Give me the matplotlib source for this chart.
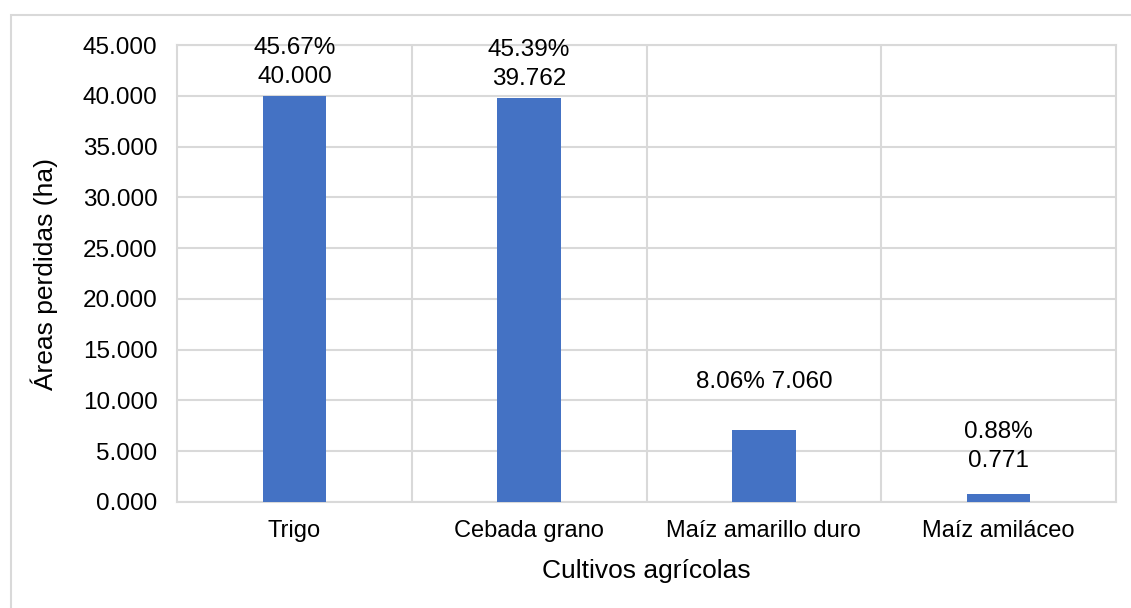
import matplotlib
matplotlib.use("Agg")
import matplotlib.pyplot as plt
from matplotlib.patches import Rectangle

categories = ["Trigo", "Cebada grano", "Maíz amarillo duro", "Maíz amiláceo"]
values = [40.000, 39.762, 7.060, 0.771]
percents = [45.67, 45.39, 8.06, 0.88]
label_sep = ["\n", "\n", " ", "\n"]
label_offsets = [33, 34, 48, 48]  # pixel offsets above bar top (label centers)

plt.rcParams['font.family'] = ['Liberation Sans', 'DejaVu Sans']

W, H = 1131, 608
fig = plt.figure(figsize=(W / 100, H / 100), dpi=100)
ax = fig.add_axes([177 / W, 1 - 502 / H, (1116 - 177) / W, (502 - 45) / H])

grid_c = '#d9d9d9'
x = list(range(len(categories)))
ax.bar(x, values, width=0.27, color='#4472C4', zorder=3)

ax.set_xlim(-0.5, len(categories) - 0.5)
ax.set_ylim(0, 45)
yt = [i * 5 for i in range(10)]
ax.set_yticks(yt)
ax.set_yticklabels([f"{v:.3f}" for v in yt], fontsize=17.5)
ax.set_xticks(x)
ax.set_xticklabels(categories, fontsize=17)
ax.tick_params(axis='both', length=0)
ax.tick_params(axis='y', pad=14)
ax.tick_params(axis='x', pad=13)

ax.yaxis.grid(True, color=grid_c, linewidth=1.5, zorder=0)
for b in [0.5, 1.5, 2.5]:
    ax.axvline(b, color=grid_c, linewidth=1.5, zorder=0)
for s in ax.spines.values():
    s.set_color(grid_c)
    s.set_linewidth(1.5)

for i, (v, p) in enumerate(zip(values, percents)):
    ax.annotate(f"{p:.2f}%{label_sep[i]}{v:.3f}", xy=(i, v), xytext=(0, label_offsets[i]),
                textcoords='offset pixels', ha='center', va='center', fontsize=17.5,
                linespacing=1.4)

ax.set_xlabel("Cultivos agrícolas", fontsize=19)
ax.set_ylabel("Áreas perdidas (ha)", fontsize=19)
ax.yaxis.set_label_coords((58 - 177) / (1116 - 177), 0.5)
ax.xaxis.set_label_coords(0.5, -(583 - 502) / (502 - 45))
ax.xaxis.label.set_va('bottom')

fig.patches.append(Rectangle((11 / W, -0.1), 1.2, (1 - 15 / H) + 0.1, transform=fig.transFigure,
                             fill=False, edgecolor='#d9d9d9', linewidth=1.5))

fig.savefig("out.png", dpi=100)
